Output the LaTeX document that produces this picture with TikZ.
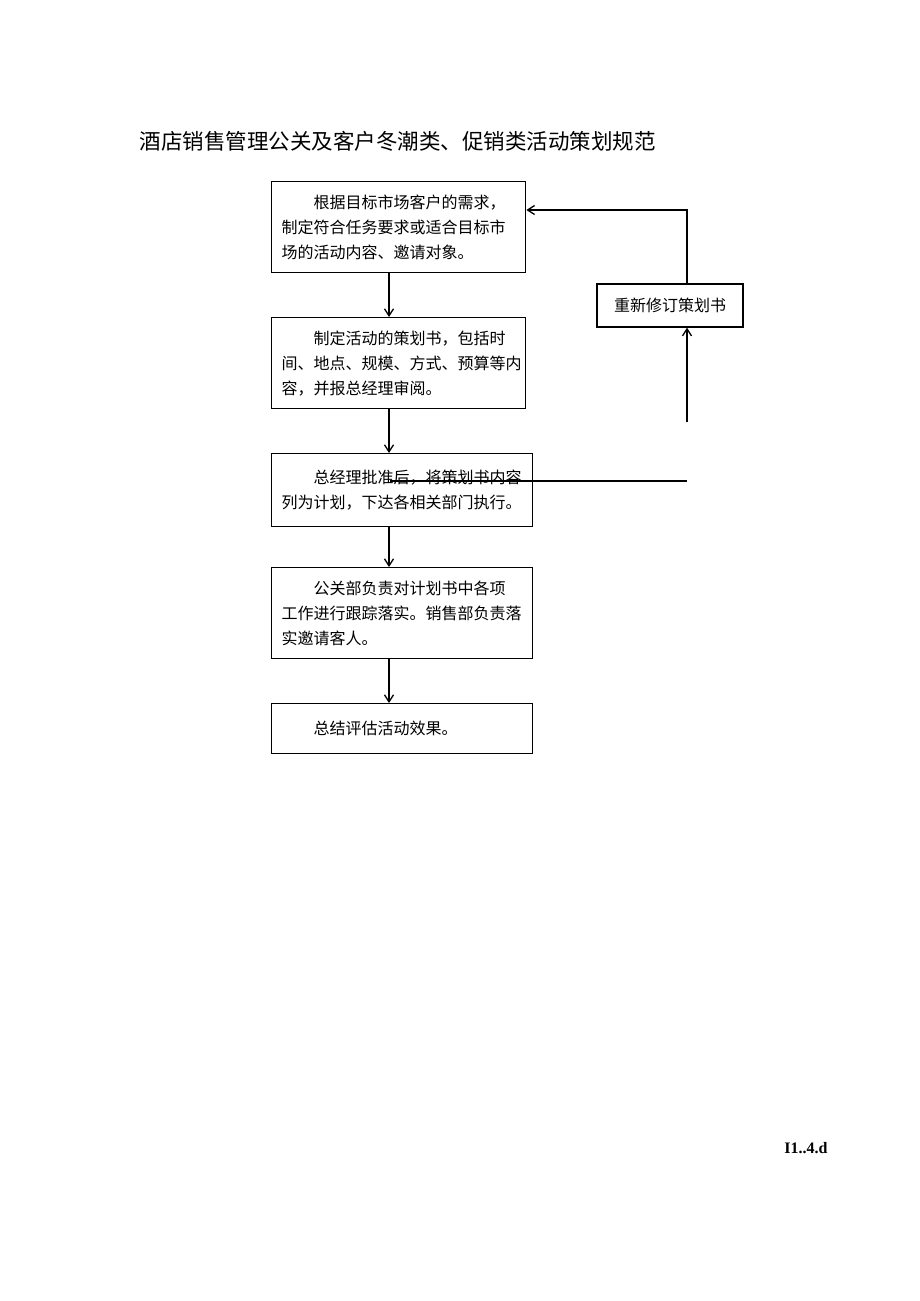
\documentclass[tikz,border=0pt]{standalone}
\usepackage{fontspec}
\setmainfont{Noto Sans CJK SC}
\newfontfamily\footfont{Liberation Serif}
\usetikzlibrary{arrows.meta}
\tikzset{
	stepbox/.style={draw, line width=1.4pt, anchor=north west, align=left, inner xsep=10pt, inner ysep=0pt, font=\fontsize{16pt}{25pt}\selectfont},
	flow/.style={line width=1.3pt, -{Straight Barb[length=7pt,width=9pt]}},
}
\begin{document}
\begin{tikzpicture}
	\useasboundingbox[fill=white] (0,0) rectangle (920pt,-1301pt);
	\node[anchor=west, font=\fontsize{21.5pt}{26pt}\selectfont] (title) at (136pt,-141pt) {酒店销售管理公关及客户冬潮类、促销类活动策划规范};
	% main column
	\node[stepbox, text width=234pt, minimum height=91pt] (need) at (271pt,-181pt) {\hspace*{2em}根据目标市场客户的需求，\\制定符合任务要求或适合目标市\\场的活动内容、邀请对象。};
	\node[stepbox, text width=234pt, minimum height=91pt] (plan) at (271pt,-317pt) {\hspace*{2em}制定活动的策划书，包括时\\间、地点、规模、方式、预算等内\\容，并报总经理审阅。};
	\node[stepbox, text width=241pt, minimum height=73pt] (approve) at (271pt,-453pt) {\hspace*{2em}总经理批准后，将策划书内容\\列为计划，下达各相关部门执行。};
	\node[stepbox, text width=241pt, minimum height=91pt] (track) at (271pt,-567pt) {\hspace*{2em}公关部负责对计划书中各项\\工作进行跟踪落实。销售部负责落\\实邀请客人。};
	\node[stepbox, text width=241pt, minimum height=50pt] (review) at (271pt,-703pt) {\hspace*{2em}总结评估活动效果。};
	\coordinate (axis) at (389pt,0);
	\foreach \A/\B in {need/plan,plan/approve,approve/track,track/review}
		\draw[flow] (\A.south -| axis) -- (\B.north -| axis);
	% revision loop
	\node[draw, line width=1.4pt, minimum width=146pt, minimum height=43pt, inner sep=0pt, font=\fontsize{16pt}{20pt}\selectfont] (revise) at (670pt,-305.5pt) {重新修订策划书};
	\coordinate (fbtop) at (687pt,-210pt);
	\coordinate (fbbot) at (687pt,-422pt);
	\draw[flow] (revise.north -| fbtop) -- (fbtop) -- (fbtop -| need.east);
	\draw[flow] (fbbot) -- (fbbot |- revise.south);
	\coordinate (cutL) at (390pt,-481pt);
	\coordinate (cutR) at (687pt,-481pt);
	\draw[line width=1.3pt] (cutL) -- (cutR);
	\node[font=\footfont\bfseries\fontsize{16pt}{18pt}\selectfont] (tag) at (806pt,-1148pt) {I1..4.d};
\end{tikzpicture}
\end{document}
